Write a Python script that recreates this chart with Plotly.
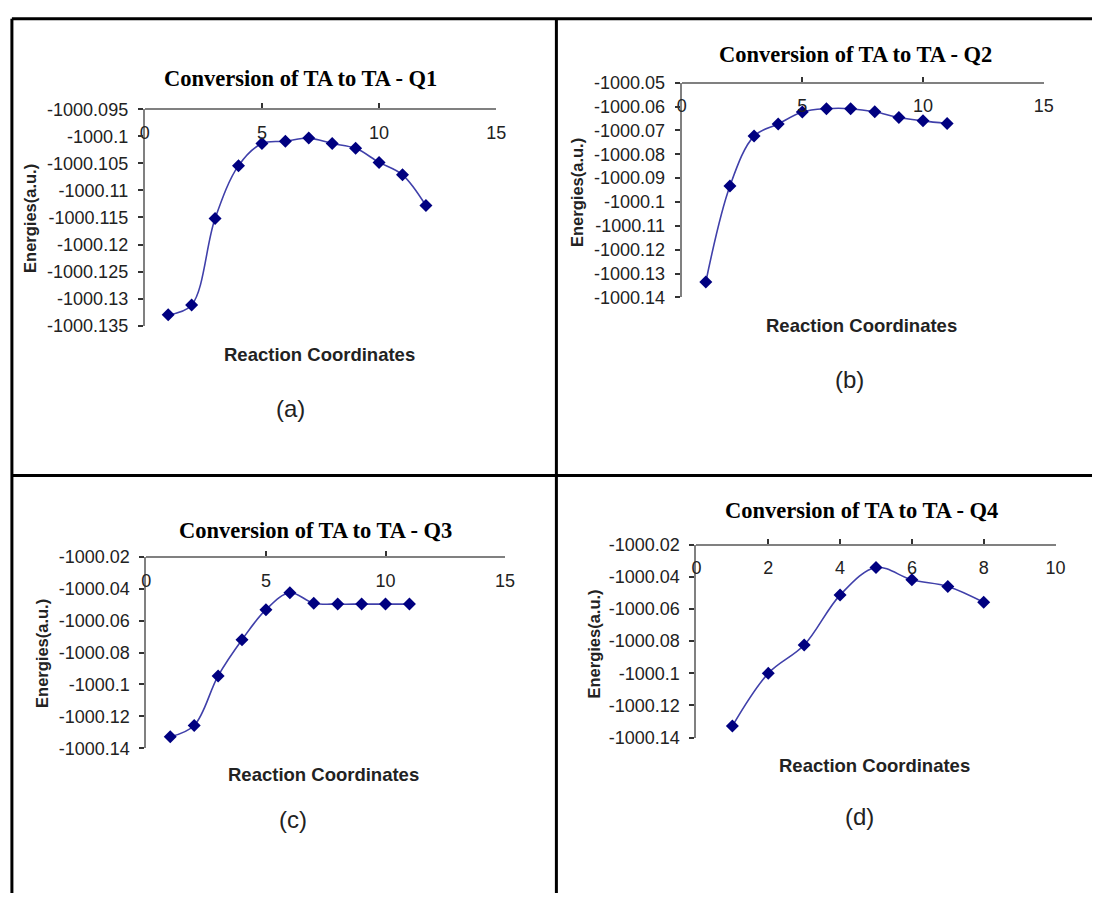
import plotly.graph_objects as go

W, H = 1102, 903

# ---------------- data ----------------
x_q1 = [1, 2, 3, 4, 5, 6, 7, 8, 9, 10, 11, 12]
e_q1 = [-1000.1330, -1000.1312, -1000.1152, -1000.1054, -1000.1013, -1000.1009,
        -1000.1003, -1000.1013, -1000.1022, -1000.1048, -1000.1071, -1000.1128]

x_q2 = [1, 2, 3, 4, 5, 6, 7, 8, 9, 10, 11]
e_q2 = [-1000.1335, -1000.0933, -1000.0724, -1000.0673, -1000.0623, -1000.0609,
        -1000.0609, -1000.0622, -1000.0646, -1000.0660, -1000.0671]

x_q3 = [1, 2, 3, 4, 5, 6, 7, 8, 9, 10, 11]
e_q3 = [-1000.1328, -1000.1257, -1000.0946, -1000.0719, -1000.0531, -1000.0425,
        -1000.0490, -1000.0496, -1000.0496, -1000.0496, -1000.0496]

x_q4 = [1, 2, 3, 4, 5, 6, 7, 8]
e_q4 = [-1000.1329, -1000.1001, -1000.0825, -1000.0514, -1000.0342, -1000.0419,
        -1000.0460, -1000.0559]

titles = ["Conversion of TA to TA - Q1", "Conversion of TA to TA - Q2",
          "Conversion of TA to TA - Q3", "Conversion of TA to TA - Q4"]
captions = ["(a)", "(b)", "(c)", "(d)"]
x_title = "Reaction Coordinates"
y_title = "Energies(a.u.)"

yt_a = [-1000.135, -1000.13, -1000.125, -1000.12, -1000.115, -1000.11, -1000.105, -1000.1, -1000.095]
yl_a = ["-1000.135", "-1000.13", "-1000.125", "-1000.12", "-1000.115", "-1000.11", "-1000.105", "-1000.1", "-1000.095"]
yt_b = [-1000.14, -1000.13, -1000.12, -1000.11, -1000.1, -1000.09, -1000.08, -1000.07, -1000.06, -1000.05]
yl_b = ["-1000.14", "-1000.13", "-1000.12", "-1000.11", "-1000.1", "-1000.09", "-1000.08", "-1000.07", "-1000.06", "-1000.05"]
yt_cd = [-1000.14, -1000.12, -1000.1, -1000.08, -1000.06, -1000.04, -1000.02]
yl_cd = ["-1000.14", "-1000.12", "-1000.1", "-1000.08", "-1000.06", "-1000.04", "-1000.02"]

xt_15 = [0, 5, 10, 15]
xt_10 = [0, 2, 4, 6, 8, 10]

# ---------------- layout geometry (pixels) ----------------
def px(x):
    return x / W

def py(y):
    return 1 - y / H

panels = [
    dict(xs=x_q1, ys=e_q1, xr=[0, 15], xt=xt_15, yr=[yt_a[0], yt_a[-1]], yt=yt_a, yl=yl_a,
         box=(141.7, 498, 101.7, 322.7), t=(300, 70), xtl=(319, 352), ytl=(26, 213), cap=(289, 408)),
    dict(xs=x_q2, ys=e_q2, xr=[0, 15], xt=xt_15, yr=[yt_b[0], yt_b[-1]], yt=yt_b, yl=yl_b,
         box=(686, 1053, 74.3, 294), t=(862, 46), xtl=(868, 323), ytl=(580, 187), cap=(856, 378)),
    dict(xs=x_q3, ys=e_q3, xr=[0, 15], xt=xt_15, yr=[yt_cd[0], yt_cd[-1]], yt=yt_cd, yl=yl_cd,
         box=(143.3, 507, 559.3, 755), t=(315, 532), xtl=(323, 782), ytl=(38, 658), cap=(292, 828)),
    dict(xs=x_q4, ys=e_q4, xr=[0, 10], xt=xt_10, yr=[yt_cd[0], yt_cd[-1]], yt=yt_cd, yl=yl_cd,
         box=(701, 1065, 546.7, 744), t=(868, 512), xtl=(882, 773), ytl=(597, 648), cap=(866, 825)),
]

fig = go.Figure()
annotations = []
tick_font = dict(family="Liberation Sans, Arial", size=18, color="#222222")
axis_col = "#808080"

for i, p in enumerate(panels):
    n = "" if i == 0 else str(i + 1)
    x0, x1, yt, yb = p["box"]
    fig.add_trace(go.Scatter(
        x=p["xs"], y=p["ys"], xaxis="x" + n, yaxis="y" + n,
        mode="lines+markers",
        line=dict(color="#4040aa", width=1.6, shape="spline", smoothing=1),
        marker=dict(symbol="diamond", size=10, color="#000080"),
        showlegend=False, hoverinfo="x+y",
    ))
    fig.layout["xaxis" + n] = dict(
        domain=[px(x0), px(x1)], range=p["xr"], tickvals=p["xt"],
        ticktext=[str(v) for v in p["xt"]],
        side="bottom", anchor="free", position=py(yt),
        showline=True, linecolor=axis_col, linewidth=2,
        ticks="inside", ticklen=5, tickwidth=1.5, tickcolor="#333333",
        ticklabelstandoff=7, tickfont=tick_font,
        showgrid=False, zeroline=False,
    )
    fig.layout["yaxis" + n] = dict(
        domain=[py(yb), py(yt)], range=p["yr"], tickvals=p["yt"], ticktext=p["yl"],
        anchor="x" + n,
        showline=True, linecolor=axis_col, linewidth=2,
        ticks="outside", ticklen=5, tickwidth=1.5, tickcolor="#333333",
        ticklabelstandoff=6, tickfont=tick_font,
        showgrid=False, zeroline=False,
    )
    annotations.append(dict(text="<b>" + titles[i] + "</b>", x=px(p["t"][0]), y=py(p["t"][1]),
                            xref="paper", yref="paper", showarrow=False, xanchor="center", yanchor="middle",
                            font=dict(family="Liberation Serif, Times New Roman", size=22.5, color="#000000")))
    annotations.append(dict(text="<b>" + x_title + "</b>", x=px(p["xtl"][0]), y=py(p["xtl"][1]),
                            xref="paper", yref="paper", showarrow=False, xanchor="center", yanchor="middle",
                            font=dict(family="Liberation Sans, Arial", size=18.5, color="#222222")))
    annotations.append(dict(text="<b>" + y_title + "</b>", x=px(p["ytl"][0]), y=py(p["ytl"][1]),
                            xref="paper", yref="paper", showarrow=False, xanchor="center", yanchor="middle",
                            textangle=-90,
                            font=dict(family="Liberation Sans, Arial", size=16.5, color="#222222")))
    annotations.append(dict(text=captions[i], x=px(p["cap"][0]), y=py(p["cap"][1]),
                            xref="paper", yref="paper", showarrow=False, xanchor="center", yanchor="middle",
                            font=dict(family="Liberation Sans, Arial", size=24, color="#222222")))

border = dict(color="#000000", width=3)
shapes = [
    dict(type="line", xref="paper", yref="paper", x0=px(7), x1=1, y0=py(9), y1=py(9), line=border),
    dict(type="line", xref="paper", yref="paper", x0=px(7), x1=px(7), y0=py(9), y1=0, line=border),
    dict(type="line", xref="paper", yref="paper", x0=px(559), x1=px(559), y0=py(9), y1=0, line=border),
    dict(type="line", xref="paper", yref="paper", x0=px(7), x1=1, y0=py(476), y1=py(476), line=border),
]

fig.update_layout(
    width=W, height=H, margin=dict(l=0, r=0, t=0, b=0),
    paper_bgcolor="white", plot_bgcolor="white",
    annotations=annotations, shapes=shapes, showlegend=False,
)

pin_script = (
    "document.documentElement.style.margin='0';"
    "document.body.style.margin='0';"
    "document.body.style.overflow='hidden';"
    "var d=document.getElementById('{plot_id}');"
    "d.style.position='fixed';d.style.left='0px';d.style.top='0px';"
)

fig.write_html("out.html", config={"displayModeBar": False}, post_script=pin_script)
